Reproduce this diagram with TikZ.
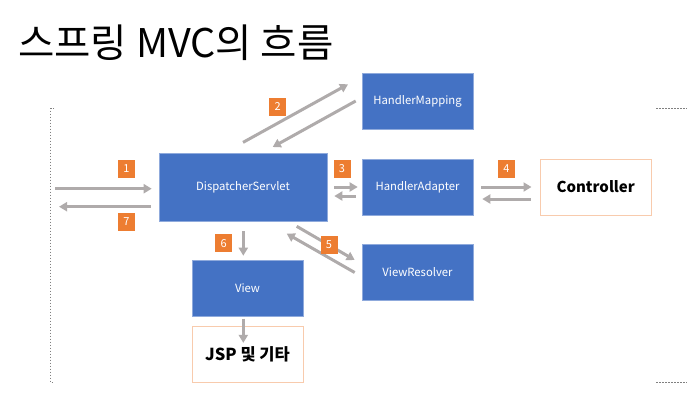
\documentclass[tikz,border=0pt]{standalone}
\usepackage{fontspec}
\setmainfont{Noto Sans CJK KR}
\usetikzlibrary{arrows.meta}
\definecolor{boxblue}{HTML}{4472C4}
\definecolor{boxedge}{HTML}{8FAADC}
\definecolor{tagorange}{HTML}{ED7D31}
\definecolor{arrowgray}{HTML}{AFABAB}
\definecolor{peach}{HTML}{F8CBAD}
\definecolor{dotgray}{HTML}{808080}
\tikzset{
  bluebox/.style={draw=boxedge, line width=0.6pt, fill=boxblue, text=white, minimum width=111pt, minimum height=56pt, inner sep=0pt, font=\fontsize{11.3}{13}\selectfont},
  whitebox/.style={draw=peach, line width=0.8pt, fill=white, text=black, minimum width=111pt, minimum height=56pt, inner sep=0pt, font=\fontsize{15}{17}\selectfont\bfseries},
  tag/.style={fill=tagorange, text=white, minimum width=17pt, minimum height=18pt, inner sep=0pt, font=\fontsize{11}{13}\selectfont},
  flow/.style={draw=arrowgray, line width=3pt, -{Triangle[length=8pt,width=9pt]}},
  frame/.style={draw=dotgray, line width=0.7pt, dash pattern=on 1.5pt off 1.5pt}
}
\begin{document}
\begin{tikzpicture}[x=1pt,y=-1pt]
\useasboundingbox (0,0) rectangle (687,416);
% title
\node[anchor=base west, inner sep=0pt, font=\fontsize{39.5}{44}\selectfont] (title) at (18,57) {스프링 MVC의 흐름};
% frame
\draw[frame] (54,108) -- (50.5,108) -- (50.5,382.5) -- (54,382.5);
\draw[frame] (656,108) -- (687,108);
\draw[frame] (656,382) -- (687,382);
% boxes
\node[bluebox, minimum width=168pt, minimum height=68pt] (ds) at (243,187) {DispatcherServlet};
\node[bluebox] (hm) at (417.5,101) {HandlerMapping};
\node[bluebox] (ha) at (417.5,187) {HandlerAdapter};
\node[bluebox] (vr) at (417.5,272.5) {ViewResolver};
\node[whitebox] (ctrl) at (595.7,187) {Controller};
\node[bluebox] (view) at (247.5,288) {View};
\node[whitebox, font=\fontsize{16.5}{18}\selectfont\bfseries] (jsp) at (247.5,354.7) {JSP 및 기타};
% free ends
\coordinate (client-in) at (55,188.7);
\coordinate (client-out) at (59,206.7);
% arrows
\draw[flow] (client-in) -- ([xshift=-7pt,yshift=-1.7pt]ds.west);
\draw[flow] ([xshift=-8pt,yshift=-19.7pt]ds.west) -- (client-out);
\draw[flow] ([yshift=10.3pt]ds.north) -- ([xshift=-13.7pt,yshift=16.7pt]hm.west);
\draw[flow] ([xshift=-6pt]hm.west) -- ([xshift=29.7pt,yshift=5.7pt]ds.north);
\draw[flow] ([xshift=7pt]ds.east) -- ([xshift=-4pt]ha.west);
\draw[flow] ([xshift=-6pt,yshift=-9pt]ha.west) -- ([xshift=7pt,yshift=-9pt]ds.east);
\draw[flow] ([xshift=7.7pt]ha.east) -- ([xshift=-8.3pt]ctrl.west);
\draw[flow] ([xshift=-9pt,yshift=-12pt]ctrl.west) -- ([xshift=9pt,yshift=-12pt]ha.east);
\draw[flow] ([xshift=53.7pt,yshift=-5pt]ds.south) -- ([xshift=-7pt,yshift=12.5pt]vr.west);
\draw[flow] ([xshift=-7pt]vr.west) -- ([xshift=43.7pt,yshift=-12.3pt]ds.south);
\draw[flow] ([xshift=0.3pt,yshift=-9.7pt]ds.south) -- ([xshift=-4.2pt,yshift=4pt]view.north);
\draw[flow] ([xshift=-4.2pt,yshift=-2.3pt]view.south) -- ([xshift=-4.2pt,yshift=-16.6pt]jsp.north);
% tags
\node[tag] (t1) at (126.5,168.7) {1};
\node[tag] (t2) at (277.7,107) {2};
\node[tag] (t3) at (342,169) {3};
\node[tag] (t4) at (506.3,168.5) {4};
\node[tag] (t5) at (329,245) {5};
\node[tag] (t6) at (223.7,243.3) {6};
\node[tag] (t7) at (126.5,222) {7};
\end{tikzpicture}
\end{document}
